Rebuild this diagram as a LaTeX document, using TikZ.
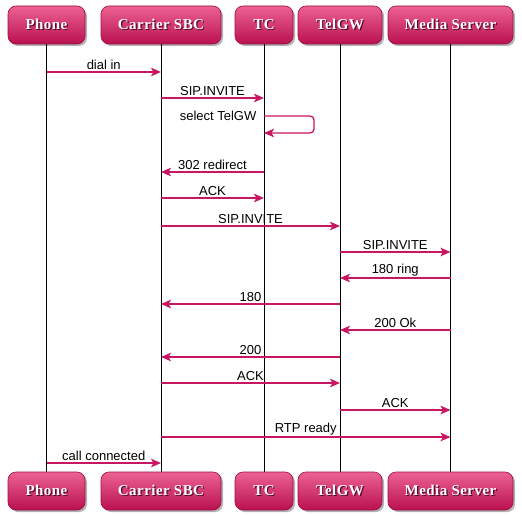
\documentclass[tikz,border=0pt]{standalone}
\usepackage{fontspec}
\setmainfont{Liberation Sans}
\newfontfamily\titlefont[LetterSpace=3]{Liberation Serif}
\usetikzlibrary{positioning,arrows.meta,calc,shadows}
\definecolor{SeqPink}{RGB}{200,22,98}
\definecolor{BoxTop}{RGB}{236,98,146}
\definecolor{BoxBottom}{RGB}{186,16,80}
\definecolor{BoxEdge}{RGB}{158,14,68}
\definecolor{TitleShade}{RGB}{80,8,36}
\newcommand{\seqtitle}[1]{\makebox[0pt][l]{\hspace{1.2pt}\raisebox{-1.2pt}{\textcolor{TitleShade}{#1}}}\textcolor{white}{#1}}
\newcommand{\seqmsg}[4]{\draw[msg] (#1T |- 0,#3) -- node[lbl]{#4} (#2T |- 0,#3);}

\begin{document}
\begin{tikzpicture}[x=1pt, y=-1pt, every node/.style={font=\fontsize{13}{15}\selectfont}]
\tikzset{
  actor/.style={draw=BoxEdge, line width=0.6pt, rounded corners=8pt, top color=BoxTop, bottom color=BoxBottom,
    minimum height=38pt, inner sep=0pt, font=\titlefont\bfseries\fontsize{15}{17}\selectfont,
    drop shadow={shadow xshift=2pt, shadow yshift=-2pt, fill=black, opacity=0.3}},
  life/.style={black, line width=0.8pt},
  msg/.style={-{Stealth[length=10pt, width=8.5pt, inset=2.5pt]}, SeqPink, line width=1.3pt},
  lbl/.style={above, inner sep=1.5pt, text=black}
}
  \fill[white] (0,0) rectangle (522,516);
  \useasboundingbox (0,0) rectangle (522,516);

  \node[actor, minimum width=77pt] (phoneT) at (46.5,25) {\seqtitle{Phone}};
  \node[actor, minimum width=120pt] (sbcT) at (161,25) {\seqtitle{Carrier SBC}};
  \node[actor, minimum width=58pt] (tcT) at (264,25) {\seqtitle{TC}};
  \node[actor, minimum width=84pt] (gwT) at (340,25) {\seqtitle{TelGW}};
  \node[actor, minimum width=125pt] (msT) at (450.5,25) {\seqtitle{Media Server}};

  \node[actor, minimum width=77pt] (phoneB) at (46.5,491) {\seqtitle{Phone}};
  \node[actor, minimum width=120pt] (sbcB) at (161,491) {\seqtitle{Carrier SBC}};
  \node[actor, minimum width=58pt] (tcB) at (264,491) {\seqtitle{TC}};
  \node[actor, minimum width=84pt] (gwB) at (340,491) {\seqtitle{TelGW}};
  \node[actor, minimum width=125pt] (msB) at (450.5,491) {\seqtitle{Media Server}};

  \foreach \p in {phone,sbc,tc,gw,ms}
    \draw[life] (\p T) -- (\p B);

  \seqmsg{phone}{sbc}{72}{dial in}
  \seqmsg{sbc}{tc}{98}{SIP.INVITE}
  \draw[msg, rounded corners=4pt] (tcT |- 0,116) node[left, inner sep=7pt, text=black]{select TelGW}
    -- ++(50,0) -- ++(0,17) -- (tcT |- 0,133);
  \seqmsg{tc}{sbc}{172}{302 redirect}
  \seqmsg{sbc}{tc}{198}{ACK}
  \seqmsg{sbc}{gw}{226}{SIP.INVITE}
  \seqmsg{gw}{ms}{252}{SIP.INVITE}
  \seqmsg{ms}{gw}{278}{180 ring}
  \seqmsg{gw}{sbc}{304}{180}
  \seqmsg{ms}{gw}{330}{200 Ok}
  \seqmsg{gw}{sbc}{357}{200}
  \seqmsg{sbc}{gw}{383}{ACK}
  \seqmsg{gw}{ms}{410}{ACK}
  \seqmsg{sbc}{ms}{437}{RTP ready}
  \seqmsg{phone}{sbc}{463}{call connected}
\end{tikzpicture}
\end{document}
